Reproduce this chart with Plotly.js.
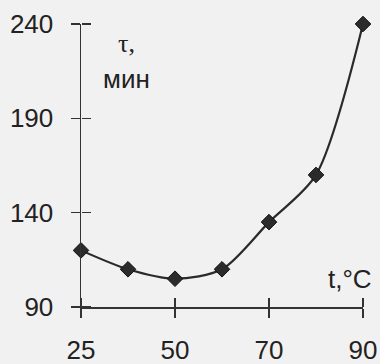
<!DOCTYPE html>
<html><head><meta charset="utf-8">
<script src="https://cdn.plot.ly/plotly-3.0.1.min.js"></script>
<style>html,body{margin:0;padding:0;background:#f1f1f1;}#c{width:380px;height:364px;}</style>
</head><body><div id="c"></div>
<script>
const temps = ['25', '40', '50', '60', '70', '80', '90'];
const minutes = [120, 110, 105, 110, 135, 160, 240];
const xTicks = ['25', '50', '70', '90'];
const yTicks = [90, 140, 190, 240];

const font = {family: 'Liberation Sans, Arial, sans-serif', size: 26, color: '#222'};
const trace = {
  x: temps, y: minutes, type: 'scatter', mode: 'lines+markers',
  line: {color: '#2a2a2a', width: 2.2, shape: 'spline', smoothing: 0.8},
  marker: {symbol: 'diamond', size: 12, color: '#2b2b2b', line: {color: '#111', width: 1}},
  cliponaxis: false, hoverinfo: 'skip'
};
const common = {showgrid: false, zeroline: false, showline: true, linecolor: '#333', linewidth: 1.5,
  ticklen: 9, tickwidth: 1.5, tickcolor: '#333', tickfont: font};
const layout = {
  width: 380, height: 364,
  margin: {l: 81, r: 17, t: 24, b: 57},
  paper_bgcolor: '#f1f1f1', plot_bgcolor: 'rgba(0,0,0,0)',
  showlegend: false,
  xaxis: Object.assign({}, common, {type: 'category', categoryorder: 'array', categoryarray: temps,
    range: [0, 6], tickvals: xTicks, ticktext: xTicks, ticks: 'outside', ticklabelstandoff: 10}),
  yaxis: Object.assign({}, common, {range: [90, 240], tickvals: yTicks, ticks: 'outside', ticklabelstandoff: 12}),
  xaxis2: Object.assign({}, common, {type: 'category', categoryorder: 'array', categoryarray: temps,
    range: [0, 6], tickvals: xTicks, ticks: 'outside', showticklabels: false, showline: false,
    overlaying: 'x', anchor: 'free', position: 0, side: 'top'}),
  yaxis2: Object.assign({}, common, {range: [90, 240], tickvals: yTicks, ticks: 'outside', showticklabels: false, showline: false,
    overlaying: 'y', anchor: 'free', position: 0, side: 'right'}),
  annotations: [
    {xref: 'paper', yref: 'paper', x: 0.16, y: 0.93, xanchor: 'center', yanchor: 'middle', showarrow: false,
     text: 'τ,', font: {family: 'Liberation Serif, serif', size: 26, color: '#222'}},
    {xref: 'paper', yref: 'paper', x: 0.16, y: 0.805, xanchor: 'center', yanchor: 'middle', showarrow: false,
     text: 'мин', font: font},
    {xref: 'paper', yref: 'paper', x: 1.04, y: 0.1, xanchor: 'right', yanchor: 'middle', showarrow: false,
     text: 't,°C', font: font}
  ]
};
const hidden = {size: 1, opacity: 0};
const yTickCarrier = {x: temps, y: minutes, xaxis: 'x', yaxis: 'y2', type: 'scatter', mode: 'markers', marker: hidden, hoverinfo: 'skip'};
const xTickCarrier = {x: temps, y: minutes, xaxis: 'x2', yaxis: 'y', type: 'scatter', mode: 'markers', marker: hidden, hoverinfo: 'skip'};
Plotly.newPlot('c', [trace, yTickCarrier, xTickCarrier], layout, {staticPlot: true, displayModeBar: false});
</script></body></html>
